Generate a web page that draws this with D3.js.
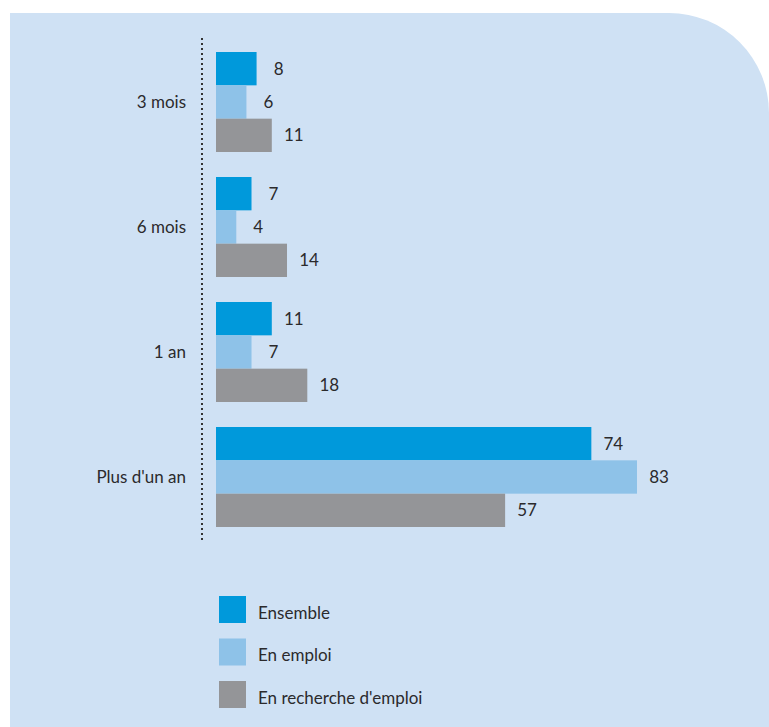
<!DOCTYPE html>
<html>
<head>
<meta charset="utf-8">
<script src="https://cdn.jsdelivr.net/npm/d3@7"></script>
<style>
  body { margin: 0; background: #fff; }
  svg text { font-family: "Lato", "Open Sans", sans-serif; fill: #2b2a2c; }
</style>
</head>
<body>
<svg id="chart" width="769" height="727"></svg>
<script>
// data
let categories = ["3 mois", "6 mois", "1 an", "Plus d'un an"]
let series_names = ["Ensemble", "En emploi", "En recherche d'emploi"]
let ensemble = [8, 7, 11, 74]
let en_emploi = [6, 4, 7, 83]
let en_recherche = [11, 14, 18, 57]
let series_colors = ["#0099db", "#8ec2e8", "#949598"]

let all_series = [ensemble, en_emploi, en_recherche]

let svg = d3.select("#chart")

// panel with rounded top-right corner
let px0 = 10, py0 = 13, px1 = 769, py1 = 727, r = 100
svg.append("path")
    .attr("d", `M${px0},${py0} H${px1 - r} A${r},${r} 0 0 1 ${px1},${py0 + r} V${py1} H${px0} Z`)
    .attr("fill", "#cfe1f4")

let x = d3.scaleLinear().domain([0, 83]).range([216, 637])
let y0 = d3.scaleBand().domain(categories).range([52, 527]).paddingInner(0.2).paddingOuter(0)
let y1 = d3.scaleBand().domain(d3.range(series_names.length)).range([0, y0.bandwidth()])

// dotted axis
svg.append("line")
    .attr("x1", 202).attr("x2", 202)
    .attr("y1", 38).attr("y2", 540)
    .attr("stroke", "#333").attr("stroke-width", 2)
    .attr("stroke-dasharray", "2,3")

let groups = svg.selectAll("g.group")
    .data(categories)
    .enter().append("g")
    .attr("class", "group")
    .attr("transform", d => `translate(0,${y0(d)})`)

groups.append("text")
    .attr("x", 186)
    .attr("y", y0.bandwidth() / 2)
    .attr("dy", "0.35em")
    .attr("text-anchor", "end")
    .attr("font-size", 17)
    .text(d => d)

for (let s = 0; s < all_series.length; s++) {
    groups.append("rect")
        .attr("x", x(0))
        .attr("y", y1(s))
        .attr("width", (d, i) => x(all_series[s][i]) - x(0))
        .attr("height", y1.bandwidth())
        .attr("fill", series_colors[s])

    groups.append("text")
        .attr("x", (d, i) => x(all_series[s][i]) + 22)
        .attr("y", y1(s) + y1.bandwidth() / 2)
        .attr("dy", "0.35em")
        .attr("text-anchor", "middle")
        .attr("font-size", 17)
        .text((d, i) => all_series[s][i])
}

// legend
let legend = svg.selectAll("g.legend")
    .data(series_names)
    .enter().append("g")
    .attr("class", "legend")
    .attr("transform", (d, i) => `translate(219,${596 + i * 42.5})`)

legend.append("rect")
    .attr("width", 27).attr("height", 27)
    .attr("fill", (d, i) => series_colors[i])

legend.append("text")
    .attr("x", 39)
    .attr("y", 17)
    .attr("dy", "0.35em")
    .attr("font-size", 17)
    .text(d => d)
</script>
</body>
</html>
